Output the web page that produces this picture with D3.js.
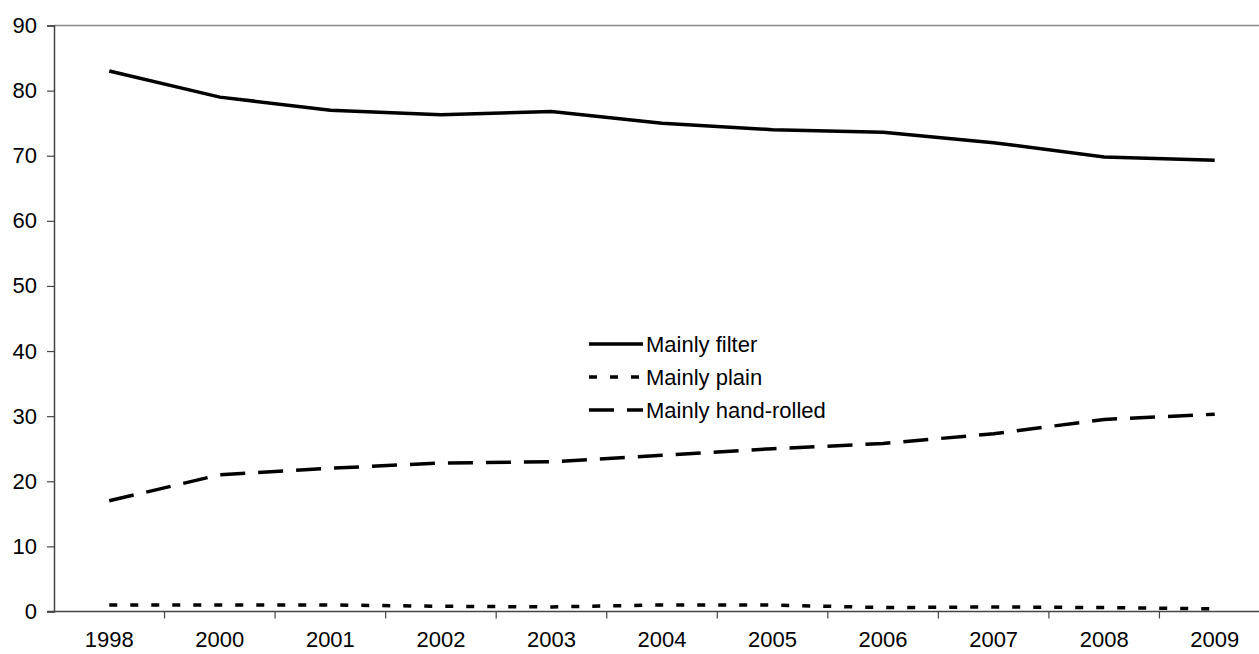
<!DOCTYPE html>
<html>
<head>
<meta charset="utf-8">
<script src="https://cdn.jsdelivr.net/npm/d3@7.9.0/dist/d3.min.js"></script>
<style>
  body { margin: 0; background: #fff; }
  svg { display: block; font-family: "Liberation Sans", Arial, sans-serif; }
</style>
</head>
<body>
<svg id="chart" width="1259" height="654"></svg>
<script>
const years = ['1998', '2000', '2001', '2002', '2003', '2004', '2005', '2006', '2007', '2008', '2009'];
const filter = [83, 79, 77, 76.3, 76.8, 75, 74, 73.6, 72, 69.8, 69.3];
const plain = [1, 1, 1, 0.8, 0.7, 1, 1, 0.6, 0.7, 0.6, 0.4];
const handRolled = [17, 21, 22, 22.8, 23, 24, 25, 25.8, 27.3, 29.5, 30.3];
const yTicks = [0, 10, 20, 30, 40, 50, 60, 70, 80, 90];

const series = [
  { name: 'Mainly filter', values: filter, dash: null },
  { name: 'Mainly plain', values: plain, dash: '8,13' },
  { name: 'Mainly hand-rolled', values: handRolled, dash: '25,13' }
];

const svg = d3.select('#chart');

let x = d3.scaleBand().domain(years).range([54, 1270]);
let y = d3.scaleLinear().domain([0, 90]).range([611.5, 25.5]);

// top border line at 90
svg.append('line')
  .attr('x1', 54).attr('x2', 1270)
  .attr('y1', y(90)).attr('y2', y(90))
  .attr('stroke', '#888').attr('stroke-width', 1.5);

let yAxis = svg.append('g')
  .attr('transform', 'translate(54,0)')
  .call(d3.axisLeft(y).tickValues(yTicks).tickSize(7).tickPadding(10));

let xAxis = svg.append('g')
  .attr('transform', `translate(0,${y(0)})`)
  .call(d3.axisBottom(x).tickSize(0).tickPadding(20));

// tick marks between categories
xAxis.selectAll('.sep')
  .data(years.slice(1))
  .join('line')
  .attr('class', 'sep')
  .attr('x1', (d) => x(d)).attr('x2', (d) => x(d))
  .attr('y1', 0).attr('y2', 7)
  .attr('stroke', '#444').attr('stroke-width', 1.2);

[yAxis, xAxis].forEach((g) => {
  g.attr('font-size', 22);
  g.select('.domain').attr('stroke', '#444').attr('stroke-width', 1.5);
  g.selectAll('.tick line').attr('stroke', '#444').attr('stroke-width', 1.2);
  g.selectAll('text').attr('fill', '#000')
    .style('font-family', '"Liberation Sans", Arial, sans-serif');
});
// extend x domain line to left tick
xAxis.select('.domain').attr('d', `M47,0H1270`);

let line = d3.line()
  .x((d, i) => x(years[i]) + x.bandwidth() / 2)
  .y((d) => y(d));

series.forEach((s) => {
  svg.append('path')
    .attr('d', line(s.values))
    .attr('fill', 'none')
    .attr('stroke', '#000')
    .attr('stroke-width', 3.5)
    .attr('stroke-dasharray', s.dash);
});

// legend
let legend = svg.append('g');
series.forEach((s, i) => {
  let ly = 344 + i * 33;
  legend.append('line')
    .attr('x1', 589).attr('x2', 643)
    .attr('y1', ly).attr('y2', ly)
    .attr('stroke', '#000').attr('stroke-width', 3.5)
    .attr('stroke-dasharray', s.dash);
  legend.append('text')
    .attr('x', 646).attr('y', ly)
    .attr('dy', '0.36em')
    .attr('font-size', 22)
    .text(s.name);
});
</script>
</body>
</html>
